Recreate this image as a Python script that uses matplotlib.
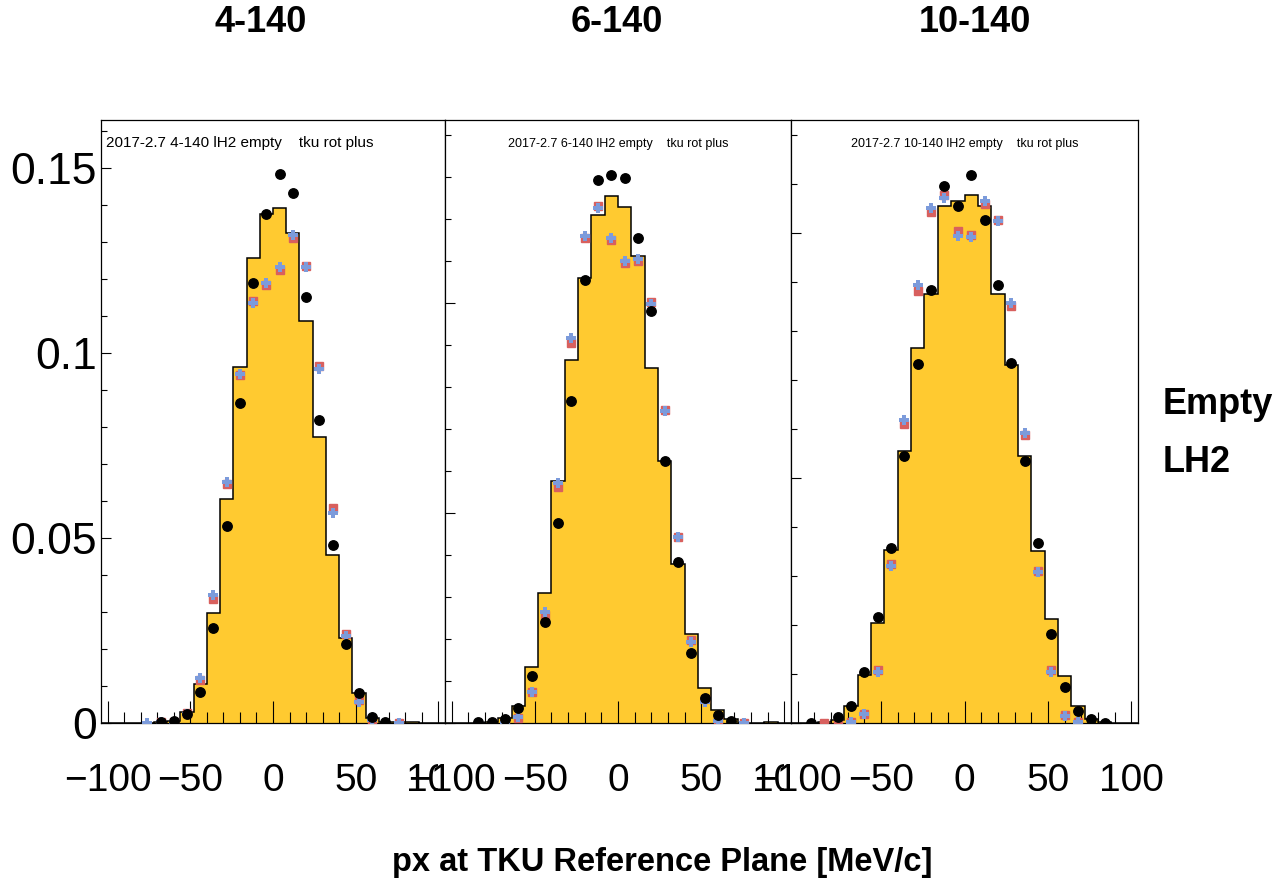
import numpy as np
import matplotlib
matplotlib.use("Agg")
import matplotlib.pyplot as plt
from matplotlib.ticker import MultipleLocator, FixedLocator
from matplotlib.transforms import Bbox

plt.rcParams["font.family"] = ["Liberation Sans", "DejaVu Sans"]

# 26 bins of 8 MeV/c spanning [-104, 104]
bin_edges = np.arange(-104, 105, 8)
bin_centers = 0.5 * (bin_edges[:-1] + bin_edges[1:])
nan = np.nan

panel_titles = ["4-140", "6-140", "10-140"]
panel_notes = ["2017-2.7 4-140 lH2 empty    tku rot plus",
               "2017-2.7 6-140 lH2 empty    tku rot plus",
               "2017-2.7 10-140 lH2 empty    tku rot plus"]
panel_ymax = [0.163, 0.1436, 0.1230]

# LH2 reference histogram (filled)
lh2_4 = [0, 0, 0, 0.0001, 0.0003, 0.0005, 0.0029, 0.0105, 0.0296, 0.0605, 0.0961, 0.1257, 0.1377,
         0.1393, 0.1325, 0.1086, 0.0772, 0.0455, 0.0231, 0.0082, 0.0013, 0.0004, 0.0002, 0.0002, 0, 0]
lh2_6 = [0, 0, 0, 0.0002, 0.0011, 0.0040, 0.0134, 0.0310, 0.0577, 0.0864, 0.1059, 0.1210, 0.1255,
         0.1229, 0.1112, 0.0845, 0.0624, 0.0379, 0.0212, 0.0083, 0.0031, 0.0009, 0, 0, 0.0002, 0]
lh2_10 = [0, 0, 0.0002, 0.0007, 0.0035, 0.0098, 0.0203, 0.0353, 0.0554, 0.0765, 0.0875, 0.1055, 0.1064,
          0.1078, 0.1055, 0.0875, 0.0731, 0.0544, 0.0350, 0.0212, 0.0096, 0.0035, 0.0008, 0.0002, 0, 0]

# Empty-absorber data (black points)
empty_4 = [nan, nan, nan, nan, 0.0002, 0.0005, 0.0024, 0.0083, 0.0258, 0.0533, 0.0864, 0.1189, 0.1375,
           0.1483, 0.1432, 0.1151, 0.0819, 0.0480, 0.0213, 0.0080, 0.0017, 0.0002, nan, nan, nan, nan]
empty_6 = [nan, nan, 0.0002, 0.0002, 0.0009, 0.0036, 0.0113, 0.0240, 0.0477, 0.0768, 0.1055, 0.1294, 0.1305,
           0.1297, 0.1154, 0.0982, 0.0625, 0.0383, 0.0166, 0.0060, 0.0019, 0.0005, nan, nan, nan, nan]
empty_10 = [nan, 0.0001, nan, 0.0012, 0.0035, 0.0105, 0.0217, 0.0357, 0.0545, 0.0732, 0.0884, 0.1096, 0.1055,
            0.1118, 0.1027, 0.0894, 0.0734, 0.0535, 0.0367, 0.0182, 0.0073, 0.0024, 0.0008, 0.0001, nan, nan]

# Red squares
red_4 = [nan, nan, nan, nan, 0.0002, 0.0002, 0.0026, 0.0117, 0.0335, 0.0645, 0.0940, 0.1142, 0.1185,
         0.1225, 0.1312, 0.1235, 0.0965, 0.0580, 0.0240, 0.0062, 0.0008, nan, 0.0001, nan, nan, nan]
red_6 = [nan, nan, nan, nan, 0.0002, 0.0013, 0.0075, 0.0257, 0.0562, 0.0906, 0.1155, 0.1232, 0.1150,
         0.1096, 0.1101, 0.1003, 0.0746, 0.0444, 0.0198, 0.0056, 0.0005, nan, 0.0001, nan, nan, nan]
red_10 = [nan, nan, 0.0001, 0.0001, 0.0003, 0.0018, 0.0108, 0.0325, 0.0610, 0.0882, 0.1043, 0.1078, 0.1004,
          0.0996, 0.1058, 0.1027, 0.0850, 0.0587, 0.0311, 0.0108, 0.0017, 0.0003, nan, nan, nan, nan]

# Blue crosses
blue_4 = [nan, nan, nan, 0.0001, 0.0002, 0.0002, 0.0024, 0.0121, 0.0345, 0.0652, 0.0944, 0.1136, 0.1190,
          0.1232, 0.1319, 0.1232, 0.0957, 0.0569, 0.0236, 0.0057, 0.0008, nan, 0.0001, nan, nan, nan]
blue_6 = [nan, nan, nan, nan, 0.0001, 0.0014, 0.0074, 0.0264, 0.0572, 0.0918, 0.1160, 0.1226, 0.1154,
          0.1100, 0.1106, 0.0999, 0.0742, 0.0444, 0.0194, 0.0051, 0.0005, nan, 0.0001, nan, nan, nan]
blue_10 = [nan, nan, nan, nan, 0.0003, 0.0018, 0.0104, 0.0320, 0.0618, 0.0894, 0.1051, 0.1070, 0.0993,
           0.0991, 0.1064, 0.1023, 0.0856, 0.0591, 0.0307, 0.0104, 0.0015, 0.0003, nan, nan, nan, nan]

hists = [lh2_4, lh2_6, lh2_10]
blacks = [empty_4, empty_6, empty_10]
reds = [red_4, red_6, red_10]
blues = [blue_4, blue_6, blue_10]

W, H = 1280, 882
fig = plt.figure(figsize=(W / 100, H / 100), dpi=100)
frames = [(101, 445), (445, 791), (791, 1138)]
top_px, bot_px = 120, 723

FILL = "#FFCA30"
RED = "#D8605E"
BLUE = "#7C9BDB"
xticks = [-100, -50, 0, 50, 100]
xtick_labels = ["\u2212100", "\u221250", "0", "50", "100"]

axes = []
for i, (x0, x1) in enumerate(frames):
    ax = fig.add_axes([x0 / W, (H - bot_px) / H, (x1 - x0) / W, (bot_px - top_px) / H])
    axes.append(ax)
    ax.stairs(hists[i], bin_edges, fill=True, color=FILL, zorder=1)
    ax.stairs(hists[i], bin_edges, color="black", lw=1.1, zorder=2)
    ax.plot(bin_centers, reds[i], ls="none", marker="s", ms=6, color=RED, mec=RED, zorder=3)
    ax.plot(bin_centers, blues[i], ls="none", marker="P", ms=7, color=BLUE, mec=BLUE, mew=0, zorder=4)
    ax.plot(bin_centers, blacks[i], ls="none", marker="o", ms=6.8, color="black", zorder=5)
    ax.set_xlim(-104, 104)
    ax.set_ylim(0, panel_ymax[i])
    for s in ax.spines.values():
        s.set_linewidth(0.9)
        s.set_color("black")
    ax.xaxis.set_major_locator(FixedLocator(xticks))
    ax.xaxis.set_minor_locator(MultipleLocator(10))
    ax.yaxis.set_major_locator(MultipleLocator(0.05))
    ax.yaxis.set_minor_locator(MultipleLocator(0.01))
    ax.tick_params(axis="x", which="major", direction="in", length=15.5, width=0.8, pad=29,
                   labelsize=28, top=False)
    ax.tick_params(axis="x", which="minor", direction="in", length=7.8, width=0.8, top=False)
    ax.tick_params(axis="y", which="major", direction="in", length=7.2, width=0.8, pad=3,
                   labelsize=32, right=False)
    ax.tick_params(axis="y", which="minor", direction="in", length=4.1, width=0.8, right=False)
    ax.set_xticks(xticks)
    ax.set_xticklabels(xtick_labels)
    if i == 0:
        ax.set_yticks([0, 0.05, 0.1, 0.15])
        ax.set_yticklabels(["0", "0.05", "0.1", "0.15"])
    else:
        ax.set_yticklabels([])
    # the next panel's pad hides the right half of the "100" label
    if i < 2:
        xr = ax.transData.transform((100, 0))[0]
        clip = Bbox([[0, 0], [xr, H]])
        for lab in ax.get_xticklabels():
            lab.set_clip_box(clip)
            lab.set_clip_on(True)
    # run label inside each frame
    y_note = (bot_px - 143.5) / (bot_px - top_px)
    if i == 0:
        ax.text((106 - x0) / (x1 - x0), y_note, panel_notes[i], fontsize=11,
                va="center", ha="left", transform=ax.transAxes)
    else:
        ax.text(0.5, y_note, panel_notes[i], fontsize=9,
                va="center", ha="center", transform=ax.transAxes)

title_x = [261, 617, 975]
for t, xc in zip(panel_titles, title_x):
    fig.text(xc / W, 1 - 23 / H, t, ha="center", va="center", fontsize=26, fontweight="bold")

fig.text(1163 / W, 1 - 405 / H, "Empty", ha="left", va="center", fontsize=26, fontweight="bold")
fig.text(1163 / W, 1 - 462 / H, "LH2", ha="left", va="center", fontsize=26, fontweight="bold")
fig.text(662 / W, 1 - 862 / H, "px at TKU Reference Plane [MeV/c]", ha="center", va="center",
         fontsize=23.5, fontweight="bold")

fig.savefig("out.png", dpi=100, facecolor="white")
